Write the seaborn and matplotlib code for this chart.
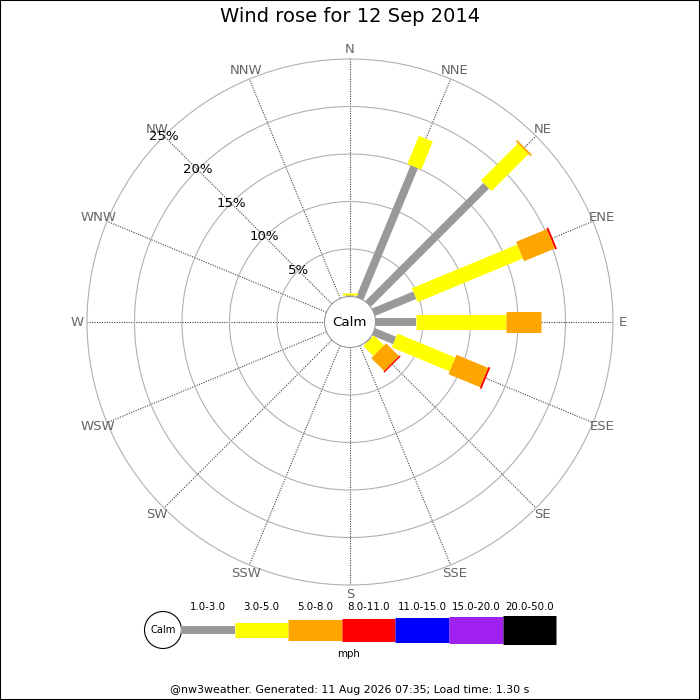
import numpy as np
import pandas as pd
import matplotlib
matplotlib.use("Agg")
import matplotlib.pyplot as plt
from matplotlib.patches import Circle, Rectangle
import seaborn as sns


# DATA (percent of time, per direction and speed band)
directions = ["N", "NNE", "NE", "ENE", "E", "ESE", "SE", "SSE",
              "S", "SSW", "SW", "WSW", "W", "WNW", "NW", "NNW"]
bands = ["1.0-3.0", "3.0-5.0", "5.0-8.0", "8.0-11.0",
         "11.0-15.0", "15.0-20.0", "20.0-50.0"]
band_colors = ["#999999", "#ffff00", "#ffa500", "#ff0000",
               "#0000ff", "#a020f0", "#000000"]

pct_1_3 = [0.15, 15.0, 17.6, 4.7, 4.3, 2.4, 0.1, 0, 0, 0, 0, 0, 0, 0, 0, 0]
pct_3_5 = [0.2, 3.2, 5.5, 12.0, 9.4, 6.6, 1.5, 0, 0, 0, 0, 0, 0, 0, 0, 0]
pct_5_8 = [0, 0, 0.2, 3.5, 3.7, 3.6, 1.9, 0, 0, 0, 0, 0, 0, 0, 0, 0]
pct_8_11 = [0, 0, 0, 0.2, 0, 0.2, 0.15, 0, 0, 0, 0, 0, 0, 0, 0, 0]
pct_11_15 = [0] * 16
pct_15_20 = [0] * 16
pct_20_50 = [0] * 16

ring_ticks = [5, 10, 15, 20, 25]

title = "Wind rose for 12 Sep 2014"
footer = "@nw3weather. Generated: 11 Aug 2026 07:35; Load time: 1.30 s"


# STYLE
sns.set_style("white")
plt.rcParams['font.family'] = ['DejaVu Sans']
plt.rcParams['text.color'] = 'black'

# bar thickness in pixels -> points
band_px = [8, 15, 21, 23, 25, 27, 29]
sizes = {b: px * 0.72 for b, px in zip(bands, band_px)}
palette = dict(zip(bands, band_colors))


# LONG FORM TABLE OF STACKED SEGMENTS
all_bands = [pct_1_3, pct_3_5, pct_5_8, pct_8_11, pct_11_15, pct_15_20, pct_20_50]
theta = np.deg2rad(np.arange(16) * 22.5)

rows = []
seg = 0
for i, d in enumerate(directions):
    start = 0.0
    for b, vals in zip(bands, all_bands):
        v = vals[i]
        if v > 0:
            rows.append({"theta": theta[i], "r": start, "band": b, "seg": seg})
            rows.append({"theta": theta[i], "r": start + v, "band": b, "seg": seg})
            seg += 1
        start += v
df = pd.DataFrame(rows)


# FIGURE
fig = plt.figure(figsize=(7, 7), dpi=100)
ax = fig.add_axes([0.1243, 0.1643, 0.7514, 0.7514], projection="polar")
ax.set_theta_zero_location("N")
ax.set_theta_direction(-1)

sns.lineplot(
    data=df, x="theta", y="r",
    hue="band", size="band", units="seg",
    hue_order=bands, size_order=bands,
    palette=palette, sizes=sizes,
    estimator=None, sort=False, legend=False,
    solid_capstyle="butt", ax=ax
)

ax.set_ylim(0, 25)
ax.set_rorigin(-2.684)
ax.set_xlabel("")
ax.set_ylabel("")
ax.set_xticks(theta)
ax.set_xticklabels([])
ax.set_yticks(ring_ticks[:-1])
ax.set_yticklabels([])
ax.yaxis.grid(True, color="#b0b0b0", lw=0.8, ls="-")
ax.xaxis.grid(True, color="#444444", lw=0.8, ls=(0, (1, 1.2)))
ax.spines["polar"].set_color("#b0b0b0")
ax.spines["polar"].set_linewidth(0.8)
ax.spines["inner"].set_color("#999999")
ax.spines["inner"].set_linewidth(0.8)

# direction labels
for t, d in zip(theta, directions):
    ax.text(t, 26.0, d, ha="center", va="center", color="#666666", fontsize=9.5)

# ring labels along NW
for r in ring_ticks:
    ax.text(np.deg2rad(315), r, f"{r}%", ha="center", va="center",
            color="black", fontsize=9.5)

ax.text(0.5, 0.5, "Calm", transform=ax.transAxes, ha="center", va="center",
        fontsize=9.6, color="black")

fig.text(0.5, 1 - 17 / 700, title, ha="center", va="center", fontsize=14)


# LEGEND (pixel coordinates)
lax = fig.add_axes([0, 0, 1, 1])

seg_w = 53.6
x0 = 181
leg_rows = []
for j, b in enumerate(bands):
    leg_rows.append({"x": x0 + j * seg_w, "y": 629.5, "band": b})
    leg_rows.append({"x": x0 + (j + 1) * seg_w, "y": 629.5, "band": b})
    lax.text(x0 + (j + 0.5) * seg_w, 607, b, ha="center", va="center", fontsize=7.4)
leg_df = pd.DataFrame(leg_rows)

sns.lineplot(
    data=leg_df, x="x", y="y",
    hue="band", size="band", units="band",
    hue_order=bands, size_order=bands,
    palette=palette, sizes=sizes,
    estimator=None, sort=False, legend=False,
    solid_capstyle="butt", ax=lax
)
lax.set_xlim(0, 700)
lax.set_ylim(700, 0)
lax.axis("off")

lax.add_patch(Circle((163, 630), 18.5, facecolor="white", edgecolor="black", lw=0.8))
lax.text(163, 630, "Calm", ha="center", va="center", fontsize=7.1)
lax.text(349, 654, "mph", ha="center", va="center", fontsize=7.4)
lax.text(350, 690, footer, ha="center", va="center", fontsize=7.9)

# thin frame round the picture
fig.patches.append(Rectangle((0, 0), 1, 1, fill=False, edgecolor="black",
                             lw=1.5, transform=fig.transFigure, figure=fig))

plt.savefig("out.png", dpi=100)
